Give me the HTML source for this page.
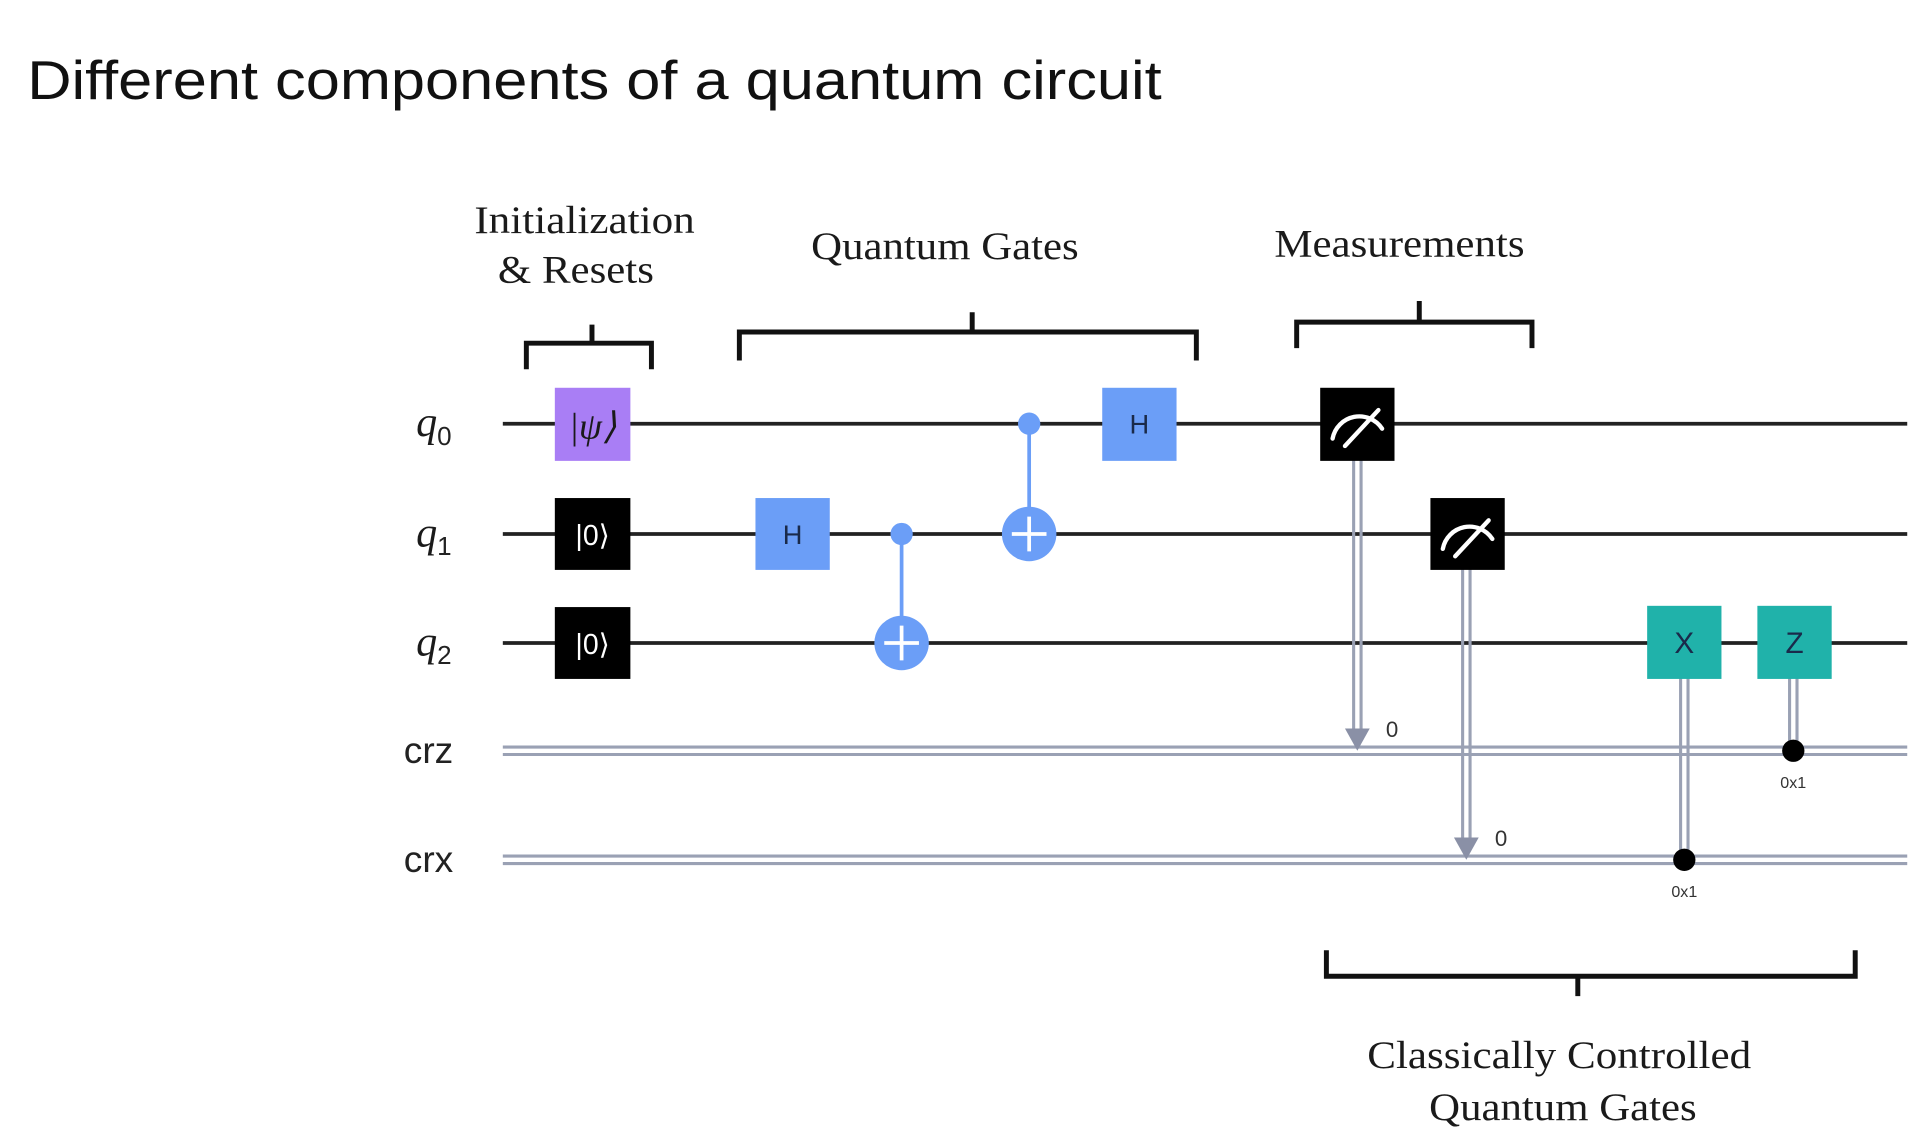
<!DOCTYPE html>
<html><head><meta charset="utf-8"><style>
html,body{margin:0;padding:0;background:#fff;width:1932px;height:1146px;overflow:hidden}
svg{display:block}
.serif{font-family:"Liberation Serif",serif;fill:#1a1a1a}
.sans{font-family:"Liberation Sans",sans-serif}
</style></head><body>
<svg width="1932" height="1146" viewBox="0 0 1560 925" preserveAspectRatio="none" xmlns="http://www.w3.org/2000/svg">
<rect width="1560" height="925" fill="#fff"/>
<text x="22" y="80" class="sans" font-size="44" fill="#111" textLength="916" lengthAdjust="spacingAndGlyphs">Different components of a quantum circuit</text>

<!-- headers -->
<g class="serif" font-size="32" text-anchor="middle">
<text x="472" y="188" textLength="178" lengthAdjust="spacingAndGlyphs">Initialization</text>
<text x="465" y="228" textLength="126" lengthAdjust="spacingAndGlyphs">&amp; Resets</text>
<text x="763" y="209" textLength="216" lengthAdjust="spacingAndGlyphs">Quantum Gates</text>
<text x="1130" y="207" textLength="202" lengthAdjust="spacingAndGlyphs">Measurements</text>
<text x="1259" y="862" textLength="310" lengthAdjust="spacingAndGlyphs">Classically Controlled</text>
<text x="1262" y="904" textLength="216" lengthAdjust="spacingAndGlyphs">Quantum Gates</text>
</g>

<!-- brackets -->
<g fill="none" stroke="#111" stroke-width="4">
<path d="M425 298 V277 H526 V298 M478 277 V262"/>
<path d="M597 291 V268 H966 V291 M785 268 V252"/>
<path d="M1047 281 V260 H1237 V281 M1146 260 V243"/>
<path d="M1071 767 V788 H1498 V767 M1274 788 V804"/>
</g>

<!-- wire labels -->
<g class="serif" font-style="italic" font-size="34" fill="#222">
<text x="336" y="352">q</text>
<text x="336" y="441">q</text>
<text x="336" y="529">q</text>
</g>
<g class="sans" font-size="21" fill="#222">
<text x="353" y="359">0</text>
<text x="353" y="448">1</text>
<text x="353" y="536">2</text>
</g>
<text x="326" y="616" class="sans" font-size="30" fill="#222">crz</text>
<text x="326" y="704" class="sans" font-size="30" fill="#222">crx</text>

<!-- quantum wires -->
<g stroke="#222" stroke-width="3">
<line x1="406" y1="342" x2="1540" y2="342"/>
<line x1="406" y1="431" x2="1540" y2="431"/>
<line x1="406" y1="519" x2="1540" y2="519"/>
</g>
<!-- classical wires -->
<g stroke="#9aa1b4" stroke-width="2.5">
<line x1="406" y1="603" x2="1540" y2="603"/>
<line x1="406" y1="609" x2="1540" y2="609"/>
<line x1="406" y1="691" x2="1540" y2="691"/>
<line x1="406" y1="697" x2="1540" y2="697"/>
</g>

<!-- init -->
<rect x="448" y="313" width="61" height="59" fill="#a97ef5"/>
<text x="478.5" y="354" text-anchor="middle" class="serif" font-size="30" font-style="italic" fill="#222">|ψ⟩</text>
<rect x="448" y="402" width="61" height="58" fill="#000"/>
<text x="478.5" y="440" text-anchor="middle" class="sans" font-size="23" fill="#fff">|0⟩</text>
<rect x="448" y="490" width="61" height="58" fill="#000"/>
<text x="478.5" y="528" text-anchor="middle" class="sans" font-size="23" fill="#fff">|0⟩</text>

<!-- gates -->
<rect x="610" y="402" width="60" height="58" fill="#6b9ef7"/>
<text x="640" y="439" text-anchor="middle" class="sans" font-size="22" fill="#1a2a4a">H</text>
<rect x="890" y="313" width="60" height="59" fill="#6b9ef7"/>
<text x="920" y="350" text-anchor="middle" class="sans" font-size="22" fill="#1a2a4a">H</text>

<g stroke="#6b9ef7" stroke-width="3">
<line x1="728" y1="431" x2="728" y2="519"/>
<line x1="831" y1="342" x2="831" y2="431"/>
</g>
<circle cx="728" cy="431" r="9" fill="#6b9ef7"/>
<circle cx="728" cy="519" r="22" fill="#6b9ef7"/>
<path d="M728 505 V533 M714 519 H742" stroke="#fff" stroke-width="3"/>
<circle cx="831" cy="342" r="9" fill="#6b9ef7"/>
<circle cx="831" cy="431" r="22" fill="#6b9ef7"/>
<path d="M831 417 V445 M817 431 H845" stroke="#fff" stroke-width="3"/>

<!-- measurement connectors -->
<g stroke="#9aa1b4" stroke-width="2.5">
<line x1="1093" y1="370" x2="1093" y2="592"/>
<line x1="1099" y1="370" x2="1099" y2="592"/>
<line x1="1181" y1="458" x2="1181" y2="680"/>
<line x1="1187" y1="458" x2="1187" y2="680"/>
<line x1="1357" y1="547" x2="1357" y2="694"/>
<line x1="1363" y1="547" x2="1363" y2="694"/>
<line x1="1445" y1="547" x2="1445" y2="606"/>
<line x1="1451" y1="547" x2="1451" y2="606"/>
</g>
<path d="M1086 588 L1106 588 L1096 606 Z" fill="#8a90a6"/>
<path d="M1174 676 L1194 676 L1184 694 Z" fill="#8a90a6"/>
<text x="1119" y="595" class="sans" font-size="18" fill="#333">0</text>
<text x="1207" y="683" class="sans" font-size="18" fill="#333">0</text>

<rect x="1066" y="313" width="60" height="59" fill="#000"/>
<rect x="1155" y="402" width="60" height="58" fill="#000"/>
<g fill="none" stroke="#fff" stroke-width="3.5" stroke-linecap="round">
<path d="M1076 354 A22 22 0 0 1 1116 346 M1086 360 L1113 331"/>
<path d="M1165 443 A22 22 0 0 1 1205 435 M1175 449 L1202 420"/>
</g>

<!-- classically controlled -->
<rect x="1330" y="489" width="60" height="59" fill="#20b2aa"/>
<text x="1360" y="527" text-anchor="middle" class="sans" font-size="24" fill="#1a2a4a">X</text>
<rect x="1419" y="489" width="60" height="59" fill="#20b2aa"/>
<text x="1449" y="527" text-anchor="middle" class="sans" font-size="24" fill="#1a2a4a">Z</text>
<circle cx="1360" cy="694" r="9" fill="#000"/>
<circle cx="1448" cy="606" r="9" fill="#000"/>
<text x="1360" y="724" text-anchor="middle" class="sans" font-size="13" fill="#333">0x1</text>
<text x="1448" y="636" text-anchor="middle" class="sans" font-size="13" fill="#333">0x1</text>
</svg>
</body></html>
